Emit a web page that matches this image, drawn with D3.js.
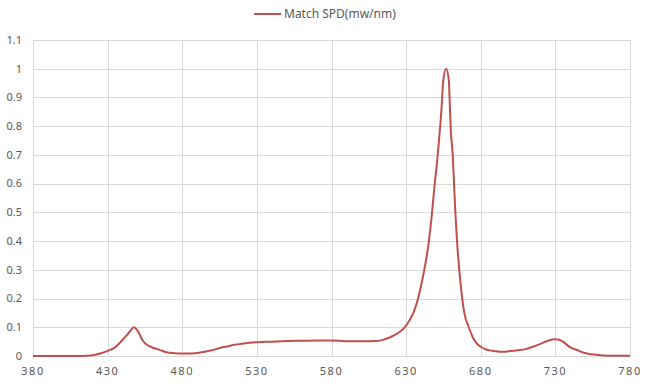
<!DOCTYPE html>
<html>
<head>
<meta charset="utf-8">
<script src="https://cdn.jsdelivr.net/npm/d3@7/dist/d3.min.js"></script>
<style>
  body { margin: 0; background: #fff; }
  svg { display: block; }
  text { font-family: "Noto Sans", "DejaVu Sans", sans-serif; }
</style>
</head>
<body>
<svg id="chart" width="651" height="385"></svg>
<script>
const seriesName = "Match SPD(mw/nm)";
const wavelengths = [380,400,410,415,420,425,430,435,438,441,444,446,447.5,449,451,453,455,458,462,466,470,475,480,487,492,496,500,505,510,515,520,525,530,540,550,560,570,580,585,590,600,610,615,620,624,626,629,632,635,638,640,642,645,647,648,649,651,652,653,654,654.7,656.8,658.6,659.1,659.8,661.2,662.1,663,664.1,665.6,667.6,669,672,675,677,680,684,688,693,700,705,710,715,720,725,730,733,735,740,745,748,752,756,760,770,780];
const values = [0,0,0,0.001,0.003,0.009,0.018,0.03,0.045,0.062,0.08,0.093,0.1,0.095,0.08,0.058,0.045,0.034,0.026,0.019,0.012,0.01,0.009,0.009,0.012,0.016,0.02,0.028,0.033,0.039,0.043,0.046,0.048,0.05,0.052,0.053,0.054,0.054,0.053,0.051,0.051,0.052,0.057,0.067,0.078,0.085,0.1,0.122,0.152,0.2,0.245,0.295,0.39,0.48,0.535,0.59,0.69,0.75,0.81,0.885,0.95,1.0,0.96,0.9,0.8,0.7,0.6,0.5,0.4,0.3,0.2,0.15,0.1,0.062,0.046,0.032,0.022,0.018,0.015,0.017,0.02,0.024,0.032,0.042,0.053,0.058,0.056,0.05,0.03,0.02,0.013,0.008,0.005,0.003,0.001,0.001];
const xTicks = [380,430,480,530,580,630,680,730,780];
const yTicks = [0,0.1,0.2,0.3,0.4,0.5,0.6,0.7,0.8,0.9,1,1.1];

const data = wavelengths.map((w, i) => ({w, v: values[i]}));
const svg = d3.select("#chart");
const mLeft = 33, mRight = 630, mTop = 40, mBottom = 356;
const x = d3.scaleLinear().domain([380, 780]).range([mLeft, mRight]);
const y = d3.scaleLinear().domain([0, 1.1]).range([mBottom, mTop]);

const grid = svg.append("g");
grid.selectAll("line.h").data(yTicks).join("line")
  .attr("x1", mLeft).attr("x2", mRight)
  .attr("y1", d => Math.round(y(d)) + 0.5).attr("y2", d => Math.round(y(d)) + 0.5)
  .attr("stroke", "#d9d9d9").attr("stroke-width", 1);
grid.selectAll("line.v").data(xTicks).join("line")
  .attr("x1", d => Math.round(x(d)) + 0.5).attr("x2", d => Math.round(x(d)) + 0.5)
  .attr("y1", mTop).attr("y2", mBottom)
  .attr("stroke", "#d9d9d9").attr("stroke-width", 1);

svg.append("g").selectAll("text").data(yTicks).join("text")
  .attr("x", 22).attr("y", d => y(d)).attr("dy", "0.35em")
  .attr("text-anchor", "end").attr("font-size", 11).attr("fill", "#595959")
  .text(d => d3.format("")(d));

svg.append("g").selectAll("text").data(xTicks).join("text")
  .attr("x", d => x(d)).attr("y", 371).attr("dy", "0.35em")
  .attr("text-anchor", "middle").attr("font-size", 11).attr("fill", "#595959")
  .attr("letter-spacing", "1.5px")
  .text(d => d);

const line = d3.line().x(d => x(d.w)).y(d => y(d.v)).curve(d3.curveMonotoneX);
svg.append("path").datum(data).attr("d", line)
  .attr("fill", "none").attr("stroke", "#c0504d").attr("stroke-width", 2)
  .attr("stroke-linejoin", "round");

const lg = svg.append("g");
lg.append("line").attr("x1", 254).attr("x2", 281).attr("y1", 14).attr("y2", 14)
  .attr("stroke", "#c0504d").attr("stroke-width", 2);
lg.append("text").attr("x", 284).attr("y", 14).attr("dy", "0.35em")
  .attr("font-size", 12).attr("fill", "#595959").text(seriesName);
</script>
</body>
</html>
